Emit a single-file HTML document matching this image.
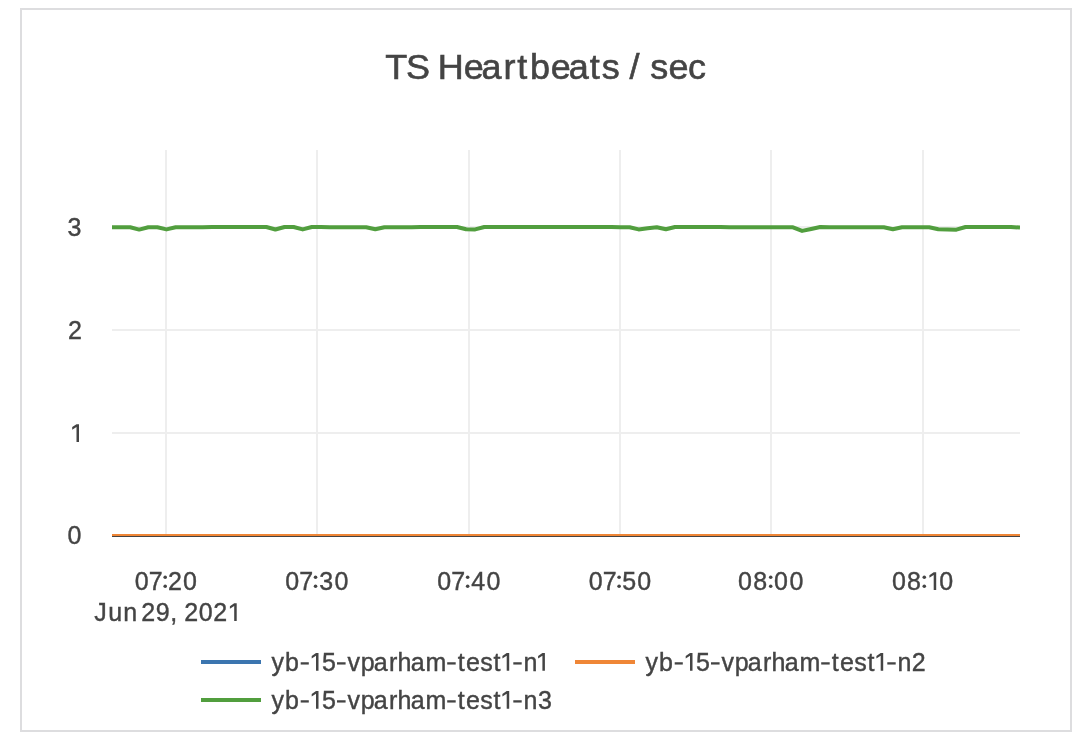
<!DOCTYPE html>
<html><head><meta charset="utf-8"><title>TS Heartbeats / sec</title>
<style>
html,body{margin:0;padding:0;background:#fff;}
body{width:1078px;height:736px;overflow:hidden;position:relative;font-family:"Liberation Sans",sans-serif;}
#frame{position:absolute;left:20px;top:8px;width:1052px;height:724px;box-sizing:border-box;border:2px solid #dddddf;background:#fff;}
svg{position:absolute;left:0;top:0;will-change:transform;}
text{font-family:"Liberation Sans",sans-serif;fill:#444444;}
.tick{font-size:25px;stroke:#444444;stroke-width:0.4px;}
.title{font-size:35px;stroke:#444444;stroke-width:0.6px;}
.leg{font-size:25px;stroke:#444444;stroke-width:0.4px;}
</style></head><body>
<div id="frame"></div>
<svg width="1078" height="736" viewBox="0 0 1078 736">
<defs><clipPath id="plot"><rect x="112" y="150" width="908" height="386"/></clipPath></defs>

<g fill="#eeeeee" shape-rendering="crispEdges">
<rect x="165" y="150" width="2" height="386"/>
<rect x="316" y="150" width="2" height="386"/>
<rect x="468" y="150" width="2" height="386"/>
<rect x="619" y="150" width="2" height="386"/>
<rect x="770" y="150" width="2" height="386"/>
<rect x="922" y="150" width="2" height="386"/>
<rect x="112" y="226" width="908" height="2"/>
<rect x="112" y="329" width="908" height="2"/>
<rect x="112" y="432" width="908" height="2"/>
</g>
<rect x="112" y="535" width="908" height="2" fill="#444444" shape-rendering="crispEdges"/>
<g clip-path="url(#plot)" fill="none" stroke-width="4" stroke-linejoin="round">
<line x1="112" y1="536" x2="1020" y2="536" stroke="#3b75af"/>
<line x1="112" y1="536" x2="1020" y2="536" stroke="#ef8636"/>
<polyline points="112.0,227.30 121.1,227.30 130.2,227.30 139.2,229.60 148.3,227.30 157.4,227.30 166.5,229.40 175.6,227.30 184.6,227.30 193.7,227.30 202.8,227.30 211.9,227.00 221.0,227.00 230.0,227.00 239.1,227.00 248.2,227.00 257.3,227.00 266.4,227.00 275.4,229.50 284.5,227.00 293.6,227.00 302.7,229.40 311.8,227.00 320.8,227.00 329.9,227.30 339.0,227.30 348.1,227.30 357.2,227.30 366.2,227.30 375.3,229.30 384.4,227.30 393.5,227.30 402.6,227.30 411.6,227.30 420.7,227.00 429.8,227.00 438.9,227.00 448.0,227.00 457.0,227.00 466.1,229.30 475.2,229.40 484.3,227.00 493.4,227.00 502.4,227.00 511.5,227.00 520.6,227.00 529.7,227.00 538.8,227.00 547.8,227.00 556.9,227.00 566.0,227.00 575.1,227.00 584.2,227.00 593.2,227.00 602.3,227.00 611.4,227.00 620.5,227.30 629.6,227.30 638.6,229.40 647.7,228.30 656.8,227.20 665.9,229.30 675.0,227.00 684.0,227.00 693.1,227.00 702.2,227.00 711.3,227.00 720.4,227.00 729.4,227.30 738.5,227.30 747.6,227.30 756.7,227.30 765.8,227.30 774.8,227.30 783.9,227.30 793.0,227.30 802.1,230.90 811.2,228.95 820.2,227.00 829.3,227.30 838.4,227.30 847.5,227.30 856.6,227.30 865.6,227.30 874.7,227.30 883.8,227.30 892.9,229.30 902.0,227.30 911.0,227.30 920.1,227.30 929.2,227.30 938.3,229.20 947.4,229.50 956.4,229.70 965.5,227.00 974.6,227.00 983.7,227.00 992.8,227.00 1001.8,227.00 1010.9,227.00 1020.0,227.60" stroke="#519e3e"/>
</g>
<text class="title" transform="scale(1.0286,1)" x="374.56 394.73 418.07 425.68 450.84 468.10 489.52 502.79 515.26 535.43 553.02 573.38 584.94 602.44 612.01 621.74 632.09 649.86 669.00" y="79.3">TS Heartbeats / sec</text>
<path fill="#444444" d="M79.00 441.90V424.20H76.50L72.20 427.10V429.70L76.50 426.90V441.90Z"/>
<text class="tick" x="67.62" y="236.2">3</text>
<text class="tick" x="67.90" y="339.0">2</text>
<text class="tick" x="67.60" y="544.0">0</text>
<circle cx="165.20" cy="577.3" r="1.8" fill="#444444"/><circle cx="165.20" cy="586.2" r="1.8" fill="#444444"/>
<text class="tick" x="134.70 148.64 161.73 168.10 182.95" y="589.8" xml:space="preserve">07 20</text>
<circle cx="315.55" cy="577.3" r="1.8" fill="#444444"/><circle cx="315.55" cy="586.2" r="1.8" fill="#444444"/>
<text class="tick" x="285.20 299.14 312.08 319.37 334.55" y="589.8" xml:space="preserve">07 30</text>
<circle cx="467.65" cy="577.3" r="1.8" fill="#444444"/><circle cx="467.65" cy="586.2" r="1.8" fill="#444444"/>
<text class="tick" x="437.20 451.24 464.18 471.33 486.45" y="589.8" xml:space="preserve">07 40</text>
<circle cx="619.10" cy="577.3" r="1.8" fill="#444444"/><circle cx="619.10" cy="586.2" r="1.8" fill="#444444"/>
<text class="tick" x="588.85 602.64 615.63 622.27 637.25" y="589.8" xml:space="preserve">07 50</text>
<circle cx="770.70" cy="577.3" r="1.8" fill="#444444"/><circle cx="770.70" cy="586.2" r="1.8" fill="#444444"/>
<text class="tick" x="738.10 753.15 767.23 773.95 789.55" y="589.8" xml:space="preserve">08 00</text>
<circle cx="924.30" cy="577.3" r="1.8" fill="#444444"/><circle cx="924.30" cy="586.2" r="1.8" fill="#444444"/>
<path fill="#444444" d="M936.20 590.00V572.30H933.70L929.40 575.20V577.80L933.70 575.00V590.00Z"/>
<text class="tick" x="892.00 907.05 920.83 925.01 939.30" y="589.8" xml:space="preserve">08  0</text>
<path fill="#444444" d="M236.70 621.00V603.30H234.20L229.90 606.20V608.80L234.20 606.00V621.00Z"/>
<text class="tick" x="94.23 108.37 123.33 137.23 141.25 155.65 170.33 177.27 184.25 198.70 213.15 225.66" y="621.1" xml:space="preserve">Jun 29, 202 </text>
<line x1="201" y1="662" x2="261" y2="662" stroke="#3b75af" stroke-width="4"/>
<rect x="300.70" y="662.25" width="8.10" height="2.3" fill="#444444"/>
<path fill="#444444" d="M318.50 670.80V653.10H316.00L311.70 656.00V658.60L316.00 655.80V670.80Z"/>
<rect x="337.00" y="662.25" width="8.60" height="2.3" fill="#444444"/>
<rect x="447.20" y="662.25" width="8.50" height="2.3" fill="#444444"/>
<path fill="#444444" d="M509.20 670.80V653.10H506.70L502.40 656.00V658.60L506.70 655.80V670.80Z"/>
<rect x="513.30" y="662.25" width="8.40" height="2.3" fill="#444444"/>
<path fill="#444444" d="M544.90 670.80V653.10H542.40L538.10 656.00V658.60L542.40 655.80V670.80Z"/>
<text class="leg" x="271.59 284.92 300.70 311.00 322.12 337.00 347.45 360.77 373.87 389.01 397.54 410.77 425.38 447.20 457.83 465.97 480.30 493.58 502.20 513.30 523.53 538.40" y="670.9" xml:space="preserve">yb  5 vparham test  n </text>
<line x1="575" y1="662" x2="635" y2="662" stroke="#ef8636" stroke-width="4"/>
<rect x="674.70" y="662.25" width="8.10" height="2.3" fill="#444444"/>
<path fill="#444444" d="M692.50 670.80V653.10H690.00L685.70 656.00V658.60L690.00 655.80V670.80Z"/>
<rect x="711.00" y="662.25" width="8.60" height="2.3" fill="#444444"/>
<rect x="821.20" y="662.25" width="8.50" height="2.3" fill="#444444"/>
<path fill="#444444" d="M883.20 670.80V653.10H880.70L876.40 656.00V658.60L880.70 655.80V670.80Z"/>
<rect x="887.30" y="662.25" width="8.40" height="2.3" fill="#444444"/>
<text class="leg" x="645.59 658.92 674.70 685.00 696.12 711.00 721.45 734.77 747.87 763.01 771.54 784.77 799.38 821.20 831.83 839.97 854.30 867.58 876.20 887.30 897.53 911.85" y="670.9" xml:space="preserve">yb  5 vparham test  n2</text>
<line x1="201" y1="700" x2="261" y2="700" stroke="#519e3e" stroke-width="4"/>
<rect x="300.70" y="700.25" width="8.10" height="2.3" fill="#444444"/>
<path fill="#444444" d="M318.50 708.80V691.10H316.00L311.70 694.00V696.60L316.00 693.80V708.80Z"/>
<rect x="337.00" y="700.25" width="8.60" height="2.3" fill="#444444"/>
<rect x="447.20" y="700.25" width="8.50" height="2.3" fill="#444444"/>
<path fill="#444444" d="M509.20 708.80V691.10H506.70L502.40 694.00V696.60L506.70 693.80V708.80Z"/>
<rect x="513.30" y="700.25" width="8.40" height="2.3" fill="#444444"/>
<text class="leg" x="271.59 284.92 300.70 311.00 322.12 337.00 347.45 360.77 373.87 389.01 397.54 410.77 425.38 447.20 457.83 465.97 480.30 493.58 502.20 513.30 523.53 538.07" y="708.9" xml:space="preserve">yb  5 vparham test  n3</text>
</svg></body></html>
